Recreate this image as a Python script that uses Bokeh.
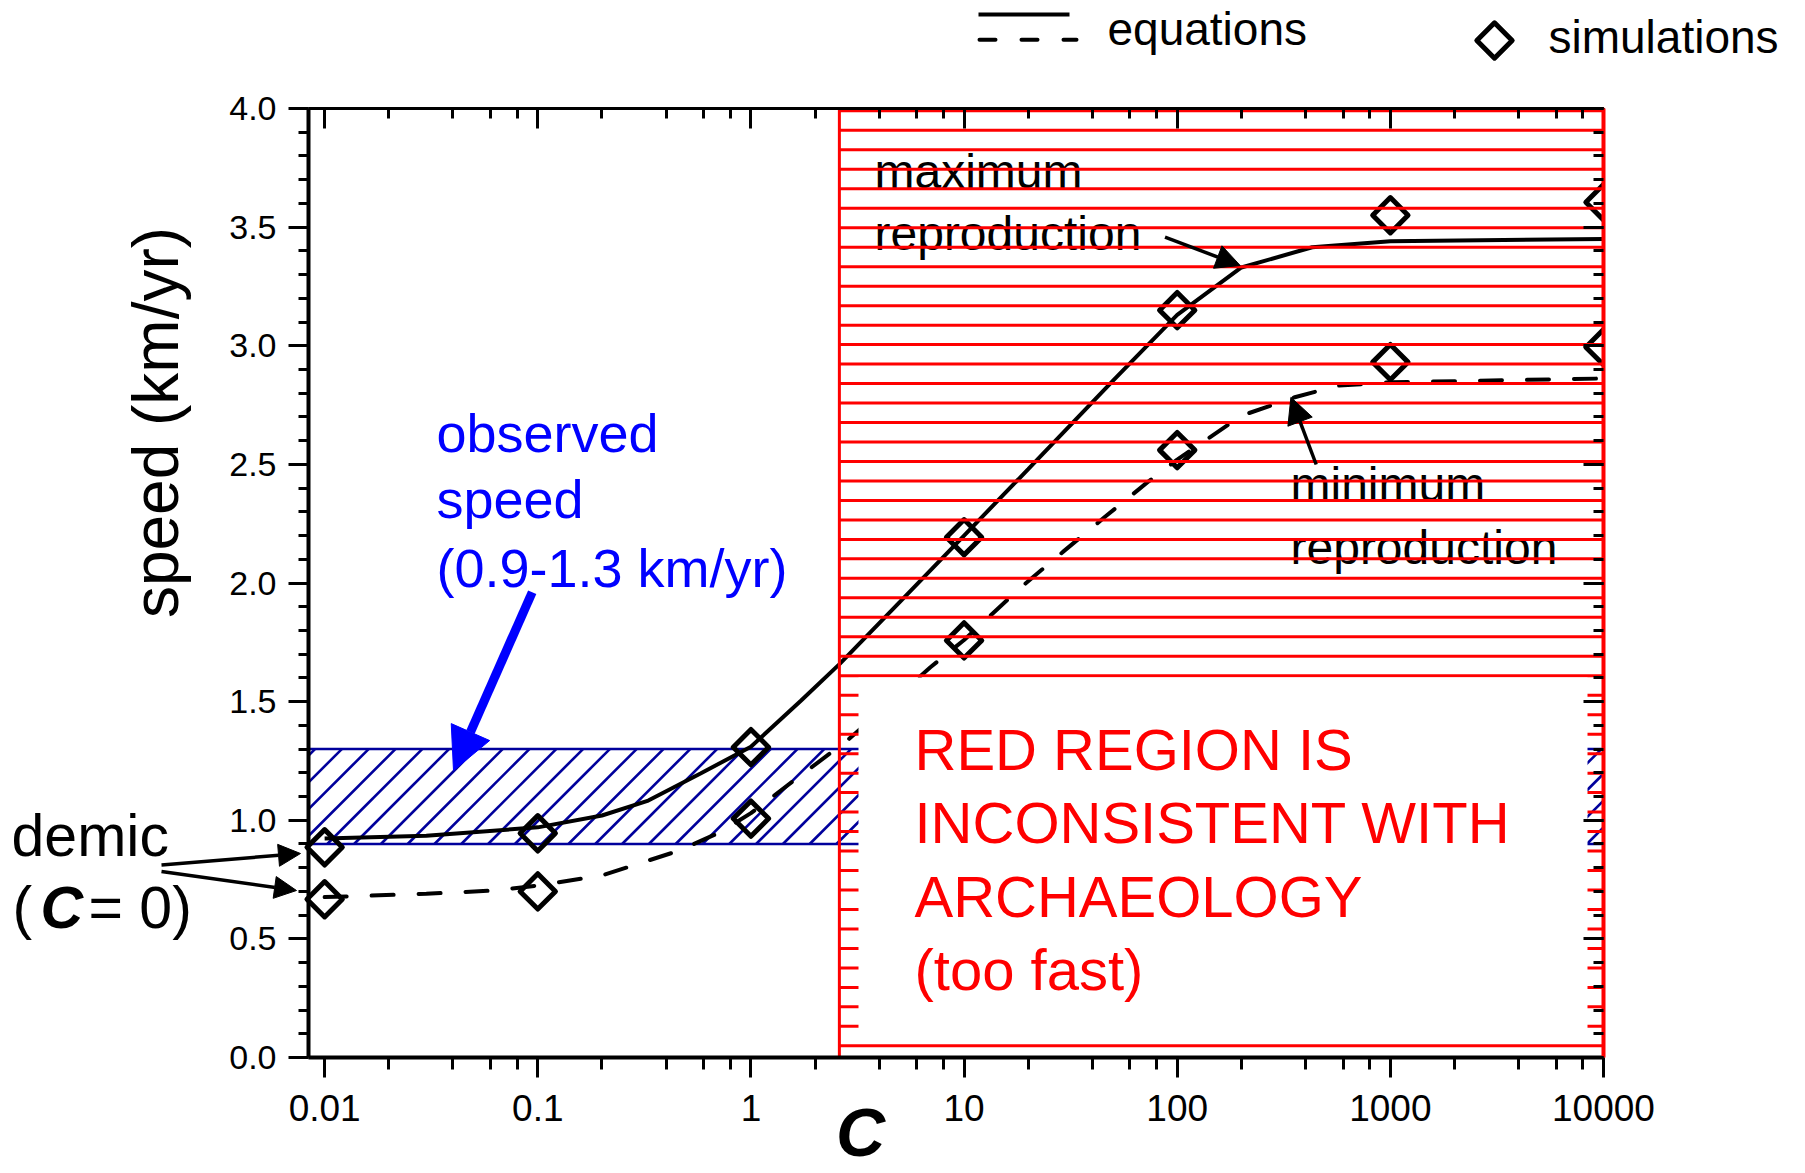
import numpy as np
from bokeh.plotting import figure
from bokeh.models import (Range1d, LogAxis, LinearAxis, LogTicker, SingleIntervalTicker,
                          CustomJSTickFormatter, PrintfTickFormatter, Label, Arrow, NormalHead)
from bokeh.embed import file_html
from bokeh.resources import INLINE
from bokeh.core.properties import value

# ---------------- data ----------------
# equations, maximum reproduction (solid)
C_eq_max = [0.01, 0.03, 0.1, 0.2, 0.33, 0.58, 1, 1.72, 2.61, 5, 10, 20, 50, 100, 200, 430, 1000, 10000]
speed_eq_max = [0.923, 0.935, 0.97, 1.02, 1.083, 1.197, 1.31, 1.505, 1.659, 1.92, 2.2, 2.48, 2.853, 3.13, 3.33, 3.415, 3.44, 3.45]
# equations, minimum reproduction (dashed)
C_eq_min = [0.01, 0.03, 0.063, 0.1, 0.2, 0.46, 0.72, 1, 1.76, 2.83, 6.95, 10, 18.4, 29, 46, 72.6, 100, 200, 356, 571, 1000, 10000]
speed_eq_min = [0.676, 0.69, 0.704, 0.725, 0.767, 0.872, 0.95, 1.03, 1.197, 1.336, 1.645, 1.76, 1.98, 2.13, 2.28, 2.425, 2.52, 2.705, 2.783, 2.832, 2.846, 2.862]
# simulations (diamonds)
C_sim = [0.01, 0.1, 1, 10, 100, 1000, 10000]
speed_sim_max = [0.886, 0.945, 1.308, 2.193, 3.15, 3.55, 3.605]
speed_sim_min = [0.667, 0.70, 1.007, 1.758, 2.56, 2.931, 2.994]
# observed speed band (km/yr) and start of the inconsistent (red) region
observed_band = [0.9, 1.3]
C_red_start = 2.6

X_MIN, X_MAX = 0.0084, 10000
Y_MIN, Y_MAX = 0.0, 4.0

# ---------------- geometry ----------------
W, H = 1805, 1173
FL, FR, FT, FB = 308, 1603, 108, 1057   # edges of the data box in canvas pixels
LMIN, LMAX = np.log10(X_MIN), np.log10(X_MAX)
BASE_SHIFT = 0.36                         # text baseline correction (em)


def xd(px):
    """canvas pixel x -> data x (for placing annotations)"""
    return 10 ** (LMIN + (px - FL) / (FR - FL) * (LMAX - LMIN))


def yd(py):
    """canvas pixel y -> data y (for placing annotations)"""
    return Y_MIN + (FB - py) / (FB - FT) * (Y_MAX - Y_MIN)


def ty(py, fs):
    """baseline pixel y -> data y for a text of font size fs"""
    return yd(py - BASE_SHIFT * fs)


def ypx(y):
    return FB - (y - Y_MIN) / (Y_MAX - Y_MIN) * (FB - FT)


FONT = "Liberation Sans"

p = figure(width=W, height=H, x_axis_type="log",
           x_range=Range1d(xd(0), xd(W)), y_range=Range1d(yd(H), yd(0)),
           output_backend="svg", toolbar_location=None, min_border=0)
p.min_border_left = p.min_border_right = p.min_border_top = p.min_border_bottom = 0
p.grid.visible = False
p.outline_line_color = None
p.background_fill_color = "white"
p.border_fill_color = "white"

# bottom axis (fixed at y = 0)
xa = p.xaxis[0]
xa.fixed_location = Y_MIN
xa.bounds = (X_MIN, X_MAX)
xa.ticker = LogTicker()
xa.formatter = CustomJSTickFormatter(code="return tick < 1 ? tick.toPrecision(1) : tick.toFixed(0);")
xa.major_tick_out = 20
xa.major_tick_in = 0
xa.minor_tick_out = 12
xa.minor_tick_in = 0
xa.axis_line_width = 4
xa.major_tick_line_width = 3
xa.minor_tick_line_width = 3
xa.major_label_text_font = FONT
xa.major_label_text_font_size = "37px"
xa.major_label_text_color = "black"
xa.major_label_standoff = 17

# left axis (fixed at x = X_MIN)
ya = p.yaxis[0]
ya.fixed_location = X_MIN
ya.bounds = (Y_MIN, Y_MAX)
ya.ticker = SingleIntervalTicker(interval=0.5, num_minor_ticks=5)
ya.formatter = PrintfTickFormatter(format="%.1f")
ya.major_tick_out = 20
ya.major_tick_in = 0
ya.minor_tick_out = 10
ya.minor_tick_in = 0
ya.axis_line_width = 4
ya.major_tick_line_width = 3
ya.minor_tick_line_width = 3
ya.major_label_text_font = FONT
ya.major_label_text_font_size = "34px"
ya.major_label_text_color = "black"
ya.major_label_standoff = 12

blank = CustomJSTickFormatter(code="return '';")
top = LogAxis(ticker=LogTicker(), formatter=blank, fixed_location=Y_MAX, bounds=(X_MIN, X_MAX),
              major_tick_in=20, major_tick_out=0, minor_tick_in=10, minor_tick_out=0,
              axis_line_width=3, major_tick_line_width=3, minor_tick_line_width=3)
p.add_layout(top, "above")
right = LinearAxis(ticker=SingleIntervalTicker(interval=0.5, num_minor_ticks=5), formatter=blank,
                   fixed_location=X_MAX, bounds=(Y_MIN, Y_MAX),
                   major_tick_in=20, major_tick_out=0, minor_tick_in=10, minor_tick_out=0,
                   axis_line_width=4, axis_line_color="red",
                   major_tick_line_width=3, minor_tick_line_width=3)
p.add_layout(right, "right")

# ---------------- observed band (blue, hatched) ----------------
NAVY = "#00009C"
p.quad(left=X_MIN, right=X_MAX, bottom=observed_band[0], top=observed_band[1],
       fill_alpha=0, line_color=NAVY, line_width=2.5)
yt, yb = ypx(observed_band[1]), ypx(observed_band[0])
hh = yb - yt
hx0, hx1, hy0, hy1 = [], [], [], []
for xt in np.arange(341.3 - 26.8 * 2, FR + hh + 26.8, 26.8):
    x0, y0, x1, y1 = xt - hh, yb, xt, yt
    if x0 < FL:
        y0 = yb - (FL - x0)
        x0 = FL
    if x1 > FR:
        y1 = yt + (x1 - FR)
        x1 = FR
    if x0 < x1:
        hx0.append(xd(x0)); hy0.append(yd(y0)); hx1.append(xd(x1)); hy1.append(yd(y1))
p.segment(x0=hx0, y0=hy0, x1=hx1, y1=hy1, line_color=NAVY, line_width=2.6)

# ---------------- equations ----------------
p.line(C_eq_max, speed_eq_max, line_color="black", line_width=4)
p.line(C_eq_min, speed_eq_min, line_color="black", line_width=4, line_dash="22 25", line_cap="round")

# ---------------- simulations ----------------
for ys in (speed_sim_max, speed_sim_min):
    p.scatter(C_sim, ys, marker="square", angle=np.pi / 4, size=25,
              fill_color=None, line_color="black", line_width=5, line_join="round")

# texts under the red hatch
for txt, px, py in [("maximum", 874, 188), ("reproduction", 874, 250),
                    ("minimum", 1290, 501), ("reproduction", 1290, 564)]:
    p.text(x=[xd(px)], y=[ty(py, 48)], text=[txt], text_font=value(FONT),
           text_font_size=value("48px"), text_color="black",
           text_align="left", text_baseline="alphabetic")

# ---------------- red inconsistent region ----------------
hatch_y = 3.99 - 0.0821 * np.arange(49)
p.segment(x0=[C_red_start] * len(hatch_y), x1=[X_MAX] * len(hatch_y), y0=hatch_y, y1=hatch_y,
          line_color="red", line_width=3)
p.quad(left=C_red_start, right=X_MAX, bottom=Y_MIN, top=Y_MAX, fill_alpha=0,
       line_color="red", line_width=3)
# white text box inside the red region
p.quad(left=xd(858), right=xd(1587), bottom=yd(1043), top=yd(677),
       fill_color="white", line_color=None)
# outside the right edge of the data box (clips the last diamonds)
p.quad(left=X_MAX, right=xd(W), bottom=Y_MIN - 0.1, top=Y_MAX, fill_color="white", line_color=None)


def label(txt, px, py, fs, color="black", style="normal"):
    p.add_layout(Label(x=xd(px), y=ty(py, fs), text=txt, text_font=FONT,
                       text_font_size=f"{fs}px", text_font_style=style, text_color=color,
                       text_align="left", text_baseline="alphabetic"))


for txt, py in [("RED REGION IS", 770), ("INCONSISTENT WITH", 843),
                ("ARCHAEOLOGY", 917), ("(too fast)", 990)]:
    label(txt, 914, py, 58, color="red")

for txt, py in [("observed", 452), ("speed", 518), ("(0.9-1.3 km/yr)", 587)]:
    label(txt, 436, py, 54, color="#0000FF")

# ---------------- arrows ----------------
p.add_layout(Arrow(x_start=xd(531.7), y_start=yd(591.7), x_end=xd(453), y_end=yd(770),
                   line_color="#0000FF", line_width=9,
                   end=NormalHead(size=42, fill_color="#0000FF", line_color="#0000FF")))
for (x0, y0, x1, y1, hs) in [(1164.5, 236.7, 1239.7, 265, 24), (1315.7, 464, 1290.4, 396.8, 26),
                             (161, 864.5, 300, 853, 22), (161, 871, 296, 890, 22)]:
    p.add_layout(Arrow(x_start=xd(x0), y_start=yd(y0), x_end=xd(x1), y_end=yd(y1),
                       line_color="black", line_width=3.5,
                       end=NormalHead(size=hs, fill_color="black", line_color="black")))

# ---------------- demic (C = 0) ----------------
label("demic", 11, 857, 59)
label("(", 12, 929, 59)
label("C", 40, 929, 59, style="bold italic")
label("= 0)", 88, 929, 59)

# ---------------- axis titles ----------------
p.add_layout(Label(x=xd(155), y=yd(422), text="speed (km/yr)", angle=np.pi / 2,
                   text_font=FONT, text_font_size="64px", text_color="black",
                   text_align="center", text_baseline="middle"))
p.add_layout(Label(x=xd(860), y=ty(1156, 68), text="C", text_font=FONT, text_font_size="68px",
                   text_font_style="bold italic", text_color="black", text_align="center",
                   text_baseline="alphabetic"))

# ---------------- legend ----------------
p.line([xd(978), xd(1069)], [yd(14), yd(14)], line_color="black", line_width=4)
p.line([xd(979), xd(1076)], [yd(39.3), yd(39.3)], line_color="black", line_width=4,
       line_dash="16 26", line_cap="round")
label("equations", 1107, 45, 46)
p.scatter([xd(1494)], [yd(40)], marker="square", angle=np.pi / 4, size=25,
          fill_color=None, line_color="black", line_width=5, line_join="round")
label("simulations", 1548, 53, 46)

open("out.html", "w").write(file_html(p, INLINE))
